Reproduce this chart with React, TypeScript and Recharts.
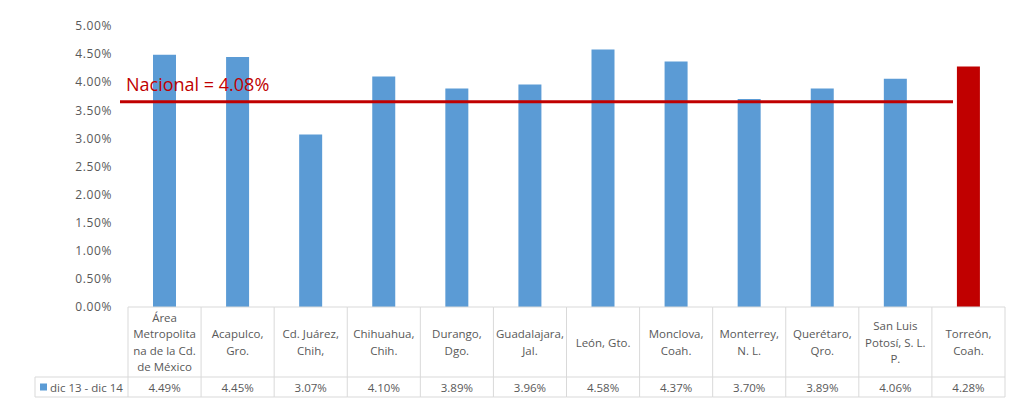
import React from "react";
import { Bar, BarChart, Cell, ReferenceLine, XAxis, YAxis } from "recharts";

// period shown in the table legend
const SERIES_NAME = "dic 13 - dic 14";

const CITIES = [
  "Área\nMetropolita\nna de la Cd.\nde México",
  "Acapulco,\nGro.",
  "Cd. Juárez,\nChih,",
  "Chihuahua,\nChih.",
  "Durango,\nDgo.",
  "Guadalajara,\nJal.",
  "León, Gto.",
  "Monclova,\nCoah.",
  "Monterrey,\nN. L.",
  "Querétaro,\nQro.",
  "San Luis\nPotosí, S. L.\nP.",
  "Torreón,\nCoah.",
];

const RATES = [4.49, 4.45, 3.07, 4.1, 3.89, 3.96, 4.58, 4.37, 3.7, 3.89, 4.06, 4.28];

const Y_TICKS = [0, 0.5, 1, 1.5, 2, 2.5, 3, 3.5, 4, 4.5, 5];

// national reference line (drawn position) and its caption
const NATIONAL_LINE = 3.65;
const NATIONAL_LABEL = "Nacional = 4.08%";

const HIGHLIGHT = "Torreón,\nCoah.";

const W = 1010;
const H = 396;
const MARGIN = { top: 18, right: 13, bottom: 7, left: 0 };
const Y_AXIS_W = 120;
const X_AXIS_H = 90;
const BAND = (W - MARGIN.left - MARGIN.right - Y_AXIS_W) / CITIES.length;
const HEADER_H = 70;
const ROW_H = 20;

const BLUE = "#5b9bd5";
const RED = "#c00000";
const TEXT = "#595959";
const BORDER = "#d9d9d9";
const FONT = "'Open Sans', sans-serif";

const data = CITIES.map((city, i) => ({ city, rate: RATES[i] }));

function TableTick(props: any) {
  const { x, y, payload, index } = props;
  const lines: string[] = String(payload.value).split("\n");
  const lh = 16.5;
  const firstY = y + HEADER_H / 2 - ((lines.length - 1) * lh) / 2;
  const left = x - BAND / 2;
  const right = x + BAND / 2;
  return (
    <g>
      {index === 0 && (
        <g>
          <line x1={left} x2={left} y1={y} y2={y + HEADER_H + ROW_H} stroke={BORDER} />
          <line x1={27} x2={left} y1={y + HEADER_H} y2={y + HEADER_H} stroke={BORDER} />
          <line x1={27} x2={left} y1={y + HEADER_H + ROW_H} y2={y + HEADER_H + ROW_H} stroke={BORDER} />
          <line x1={27} x2={27} y1={y + HEADER_H} y2={y + HEADER_H + ROW_H} stroke={BORDER} />
          <rect x={32} y={y + HEADER_H + 6.5} width={7} height={7} fill={BLUE} />
          <text
            x={42}
            y={y + HEADER_H + ROW_H / 2}
            dominantBaseline="central"
            fontSize={11.5}
            fill={TEXT}
            fontFamily={FONT}
          >
            {SERIES_NAME}
          </text>
        </g>
      )}
      <line x1={left} x2={right} y1={y} y2={y} stroke={BORDER} />
      <line x1={left} x2={right} y1={y + HEADER_H} y2={y + HEADER_H} stroke={BORDER} />
      <line x1={left} x2={right} y1={y + HEADER_H + ROW_H} y2={y + HEADER_H + ROW_H} stroke={BORDER} />
      <line x1={right} x2={right} y1={y} y2={y + HEADER_H + ROW_H} stroke={BORDER} />
      <text textAnchor="middle" fontSize={11.5} fill={TEXT} fontFamily={FONT}>
        {lines.map((l, i) => (
          <tspan key={i} x={x} y={firstY + i * lh} dominantBaseline="central">
            {l}
          </tspan>
        ))}
      </text>
      <text
        x={x}
        y={y + HEADER_H + ROW_H / 2}
        textAnchor="middle"
        dominantBaseline="central"
        fontSize={11.5}
        fill={TEXT}
        fontFamily={FONT}
      >
        {RATES[index].toFixed(2)}%
      </text>
    </g>
  );
}

function NationalLine(props: any) {
  const { x1, x2, y1 } = props;
  return (
    <g>
      <line x1={x1 - 8} x2={x2 - 52} y1={y1} y2={y1} stroke={RED} strokeWidth={3} />
      <text x={x1 - 2} y={y1 - 11} fontSize={18} fill={RED} fontFamily={FONT}>
        {NATIONAL_LABEL}
      </text>
    </g>
  );
}

export default function App() {
  return (
    <div style={{ width: W, height: H, fontFamily: FONT }}>
      <BarChart width={W} height={H} data={data} margin={MARGIN}>
        <XAxis
          dataKey="city"
          height={X_AXIS_H}
          axisLine={false}
          tickLine={false}
          tickSize={0}
          tickMargin={0}
          interval={0}
          tick={<TableTick />}
        />
        <YAxis
          width={Y_AXIS_W}
          domain={[0, 5]}
          ticks={Y_TICKS}
          axisLine={false}
          tickLine={false}
          tickSize={0}
          tickMargin={16}
          tickFormatter={(v: number) => `${v.toFixed(2)}%`}
          tick={{ fontSize: 12, fill: TEXT, fontFamily: FONT, letterSpacing: 0.6 }}
        />
        <Bar dataKey="rate" barSize={23} isAnimationActive={false}>
          {data.map((d) => (
            <Cell key={d.city} fill={d.city === HIGHLIGHT ? RED : BLUE} />
          ))}
        </Bar>
        <ReferenceLine y={NATIONAL_LINE} shape={<NationalLine />} />
      </BarChart>
    </div>
  );
}
